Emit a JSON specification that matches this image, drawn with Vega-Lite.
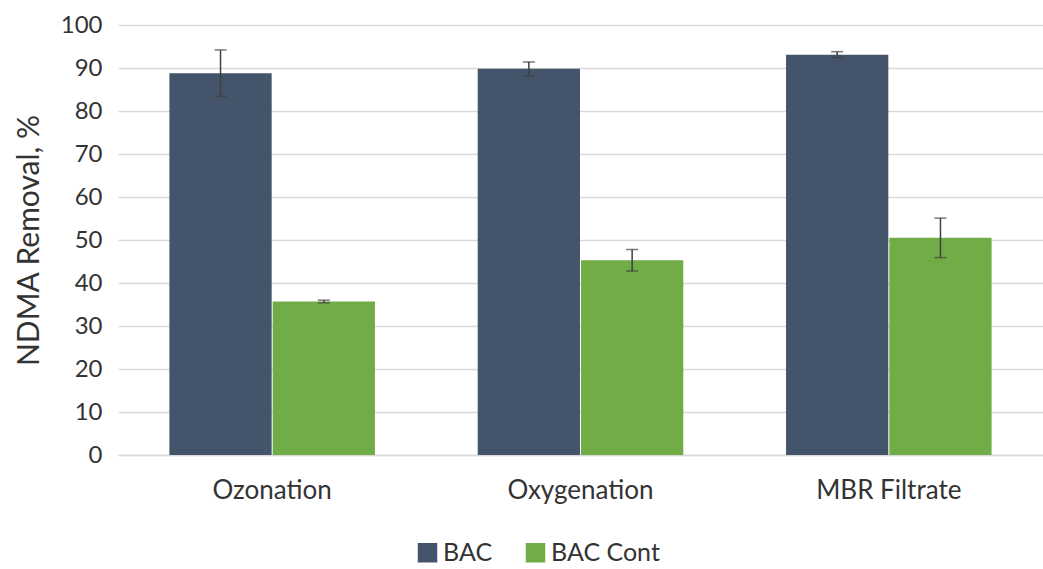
{
  "$schema": "https://vega.github.io/schema/vega-lite/v6.json",
  "autosize": {"type": "none"},
  "width": 925,
  "height": 430,
  "padding": {"left": 118, "top": 25, "right": 0, "bottom": 114},
  "background": "white",
  "config": {
    "font": "Lato",
    "view": {"stroke": null},
    "axis": {"labelFont": "Lato", "titleFont": "Lato", "labelColor": "#333333", "titleColor": "#333333"}
  },
  "data": {
    "values": [
      {"category": "Ozonation", "series": "BAC", "value": 88.8, "lo": 83.4, "hi": 94.2},
      {"category": "Ozonation", "series": "BAC Cont", "value": 35.7, "lo": 35.4, "hi": 36.0},
      {"category": "Oxygenation", "series": "BAC", "value": 89.8, "lo": 88.2, "hi": 91.4},
      {"category": "Oxygenation", "series": "BAC Cont", "value": 45.3, "lo": 42.8, "hi": 47.8},
      {"category": "MBR Filtrate", "series": "BAC", "value": 93.1, "lo": 92.4, "hi": 93.8},
      {"category": "MBR Filtrate", "series": "BAC Cont", "value": 50.5, "lo": 45.9, "hi": 55.1}
    ]
  },
  "encoding": {
    "x": {
      "field": "category", "type": "nominal", "sort": ["Ozonation", "Oxygenation", "MBR Filtrate"],
      "scale": {"paddingInner": 0.3333, "paddingOuter": 0.1667},
      "axis": {"title": null, "labelAngle": 0, "labelFontSize": 26, "labelPadding": 22, "ticks": false, "domainColor": "#d9d9d9", "domainWidth": 1.5, "grid": false}
    },
    "xOffset": {"field": "series", "type": "nominal", "scale": {"paddingInner": 0.01}}
  },
  "layer": [
    {
      "mark": {"type": "bar"},
      "encoding": {
        "y": {
          "field": "value", "type": "quantitative",
          "scale": {"domain": [0, 100], "nice": false},
          "axis": {"title": "NDMA Removal, %", "titleFontSize": 30, "titleFontWeight": "normal", "titlePadding": 16, "labelFontSize": 24, "labelPadding": 16, "labelOverlap": false, "values": [0,10,20,30,40,50,60,70,80,90,100], "ticks": false, "domain": false, "gridColor": "#d9d9d9", "gridWidth": 1.5}
        },
        "color": {
          "field": "series", "type": "nominal",
          "scale": {"domain": ["BAC", "BAC Cont"], "range": ["#44546A", "#70AD47"]},
          "legend": {"title": null, "orient": "none", "direction": "horizontal", "legendX": 297, "legendY": 515, "symbolType": "square", "symbolSize": 380, "symbolStrokeWidth": 0, "labelFontSize": 25, "labelColor": "#333333", "columnPadding": 30, "labelOffset": 3}
        }
      }
    },
    {
      "mark": {"type": "rule", "color": "#404040", "strokeWidth": 1.5},
      "encoding": {
        "y": {"field": "lo", "type": "quantitative"},
        "y2": {"field": "hi"}
      }
    },
    {
      "mark": {"type": "tick", "color": "#404040", "orient": "horizontal", "size": 12, "thickness": 1.5},
      "encoding": {
        "y": {"field": "hi", "type": "quantitative"}
      }
    },
    {
      "mark": {"type": "tick", "color": "#404040", "orient": "horizontal", "size": 12, "thickness": 1.5},
      "encoding": {
        "y": {"field": "lo", "type": "quantitative"}
      }
    }
  ]
}
